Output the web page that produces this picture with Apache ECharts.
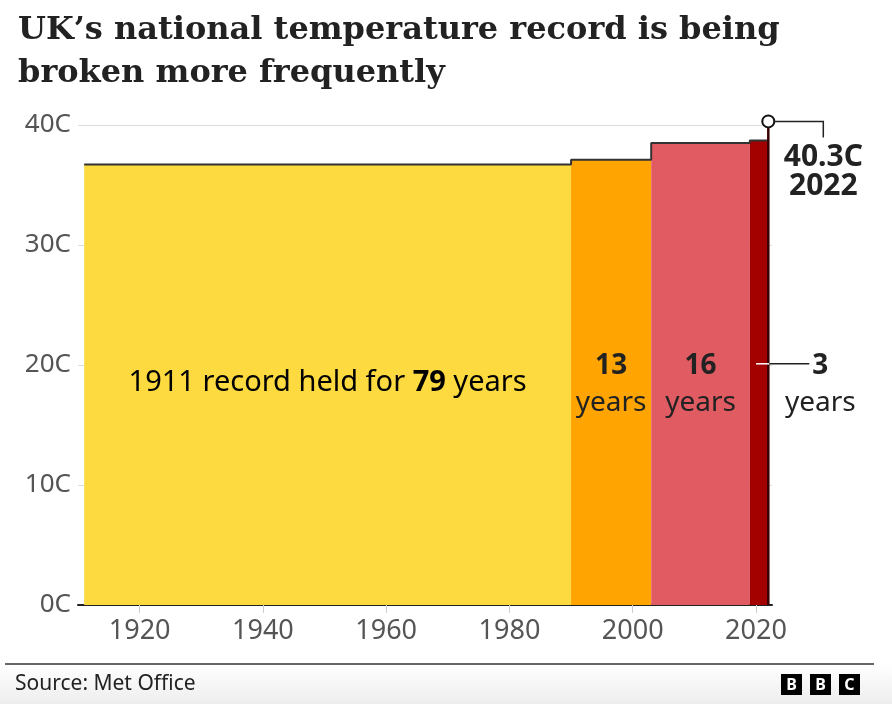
<!DOCTYPE html>
<html>
<head>
<meta charset="utf-8">
<script src="https://cdn.jsdelivr.net/npm/echarts@6/dist/echarts.min.js"></script>
<style>
html,body{margin:0;padding:0;background:#fff;}
#chart{width:892px;height:704px;}
</style>
</head>
<body>
<div id="chart"></div>
<script>
// ---- Data ----
const recordStart = [1911, 1990, 2003, 2019];
const recordEnd   = [1990, 2003, 2019, 2022];
const recordTemp  = [36.7, 37.1, 38.5, 38.7];
const heldYears   = [79, 13, 16, 3];
const latestYear  = 2022;
const latestTemp  = 40.3;
const xTickYears  = [1920, 1940, 1960, 1980, 2000, 2020];
const yTickValues = [0, 10, 20, 30, 40];

// ---- Styles ----
const barColors = ['#FDDA3F', '#FFA400', '#E15B62', '#A30000'];
const SANS = '"Noto Sans", "Open Sans", sans-serif';
const SERIF = '"DejaVu Serif", serif';

const chart = echarts.init(document.getElementById('chart'), null, {renderer: 'canvas'});

const stepData = recordStart.map((s, i) => [s, recordTemp[i]]);
stepData.push([recordEnd[recordEnd.length - 1], recordTemp[recordTemp.length - 1]]);

const option = {
  animation: false,
  backgroundColor: '#fff',
  grid: {left: 78, right: 120, top: 125, bottom: 99, containLabel: false},
  xAxis: {
    type: 'value',
    min: 1910,
    max: 2022.6,
    axisLine: {show: true, onZero: true, lineStyle: {color: '#222', width: 2}},
    axisTick: {show: true, customValues: xTickYears, length: 8, lineStyle: {color: '#ccc', width: 1}},
    axisLabel: {customValues: xTickYears, formatter: v => String(v), color: '#555', fontSize: 27, fontFamily: SANS, margin: 13},
    splitLine: {show: false}
  },
  yAxis: {
    type: 'value',
    min: 0,
    max: 40,
    interval: 10,
    axisLine: {show: false},
    axisTick: {show: false},
    axisLabel: {formatter: '{value}C', color: '#555', fontSize: 26, fontFamily: SANS, margin: 7},
    splitLine: {show: true, lineStyle: {color: '#dcdcdc', width: 1}}
  },
  series: [
    {
      type: 'custom',
      data: recordStart.map((s, i) => [s, recordEnd[i], recordTemp[i]]),
      encode: {x: [0, 1], y: 2},
      renderItem: function (params, api) {
        const a = api.coord([api.value(0), 0]);
        const b = api.coord([api.value(1), api.value(2)]);
        return {
          type: 'rect',
          shape: {x: a[0], y: b[1], width: b[0] - a[0], height: a[1] - b[1]},
          style: {fill: barColors[params.dataIndex]}
        };
      },
      z: 2
    },
    {
      type: 'line',
      step: 'end',
      data: stepData,
      symbol: 'none',
      lineStyle: {color: '#333', width: 2},
      z: 3
    },
    {
      type: 'line',
      clip: false,
      data: [
        {value: [latestYear, 0], symbol: 'none'},
        {value: [latestYear, latestTemp], symbol: 'circle', symbolSize: 12}
      ],
      showSymbol: true,
      lineStyle: {color: '#3a0000', width: 2.5},
      itemStyle: {color: '#fff', borderColor: '#111', borderWidth: 2},
      z: 4
    }
  ]
};
chart.setOption(option);

// ---- Annotations positioned via the axes ----
const px = (x, y) => chart.convertToPixel({gridIndex: 0}, [x, y]);
const g = [];

// Title
g.push({type: 'text', left: 18, top: 9, style: {text: 'UK\u2019s national temperature record is being\nbroken more frequently', font: 'bold 32px ' + SERIF, fill: '#222', lineHeight: 43}});

// Yellow label
const yc = px((recordStart[0] + recordEnd[0]) / 2, 18.5);
g.push({type: 'text', x: yc[0], y: yc[1], style: {
  text: '{a|' + recordStart[0] + ' record held for }{b|' + heldYears[0] + '}{a| years}',
  align: 'center', verticalAlign: 'middle',
  rich: {a: {fontSize: 29, fontFamily: SANS, color: '#222'}, b: {fontSize: 29, fontFamily: SANS, fontWeight: 'bold', color: '#222'}}
}});

// 13 and 16 labels
for (let i = 1; i <= 2; i++) {
  const top = px((recordStart[i] + recordEnd[i]) / 2, 19.9);
  const bot = px((recordStart[i] + recordEnd[i]) / 2, 16.8);
  g.push({type: 'text', x: top[0], y: top[1], style: {text: String(heldYears[i]), align: 'center', verticalAlign: 'middle', font: 'bold 28px ' + SANS, fill: '#222'}});
  g.push({type: 'text', x: bot[0], y: bot[1], style: {text: 'years', align: 'center', verticalAlign: 'middle', font: '28px ' + SANS, fill: '#222'}});
}

// 3 years label with connector
const endTop = px(latestYear, 20.1);
const num3 = px(latestYear, 19.9);
const barMid = px((recordStart[3] + recordEnd[3]) / 2, 20.1);
const yrs3 = px(latestYear, 16.8);
g.push({type: 'line', shape: {x1: barMid[0] - 3, y1: endTop[1], x2: endTop[0] + 1, y2: endTop[1]}, style: {stroke: '#fff', lineWidth: 1.5}});
g.push({type: 'line', shape: {x1: endTop[0] + 1, y1: endTop[1], x2: endTop[0] + 41, y2: endTop[1]}, style: {stroke: '#222', lineWidth: 1.5}});
g.push({type: 'text', x: endTop[0] + 52, y: num3[1], style: {text: String(heldYears[3]), align: 'center', verticalAlign: 'middle', font: 'bold 28px ' + SANS, fill: '#222'}});
g.push({type: 'text', x: endTop[0] + 52, y: yrs3[1], style: {text: 'years', align: 'center', verticalAlign: 'middle', font: '28px ' + SANS, fill: '#222'}});

// 40.3C 2022 label with elbow connector
const pk = px(latestYear, latestTemp);
g.push({type: 'polyline', shape: {points: [[pk[0] + 6, pk[1]], [pk[0] + 55, pk[1]], [pk[0] + 55, pk[1] + 16]]}, style: {stroke: '#222', lineWidth: 1.5, fill: null}});
g.push({type: 'text', x: pk[0] + 55, y: pk[1] + 36, style: {text: latestTemp.toFixed(1) + 'C', align: 'center', verticalAlign: 'middle', font: 'bold 30px ' + SANS, fill: '#222'}});
g.push({type: 'text', x: pk[0] + 55, y: pk[1] + 65, style: {text: String(latestYear), align: 'center', verticalAlign: 'middle', font: 'bold 30px ' + SANS, fill: '#222'}});

// Footer
g.push({type: 'rect', shape: {x: 0, y: 664, width: 892, height: 40}, style: {fill: new echarts.graphic.LinearGradient(0, 0, 0, 1, [{offset: 0, color: '#ffffff'}, {offset: 1, color: '#ededed'}])}, z: -1});
g.push({type: 'line', shape: {x1: 5, y1: 664, x2: 874, y2: 664}, style: {stroke: '#333', lineWidth: 1.5}});
g.push({type: 'text', left: 15, top: 674, style: {text: 'Source: Met Office', font: '21px ' + SANS, fill: '#222'}});
['B', 'B', 'C'].forEach((ch, i) => {
  const x0 = 781 + i * 29;
  g.push({type: 'rect', shape: {x: x0, y: 674, width: 21, height: 21}, style: {fill: '#000'}});
  g.push({type: 'text', x: x0 + 10.5, y: 685, style: {text: ch, align: 'center', verticalAlign: 'middle', font: 'bold 16px ' + SANS, fill: '#fff'}});
});

g.forEach(e => { if (e.z === undefined) e.z = 100; e.zlevel = 1; });
chart.setOption({graphic: {elements: g}});
</script>
</body>
</html>
